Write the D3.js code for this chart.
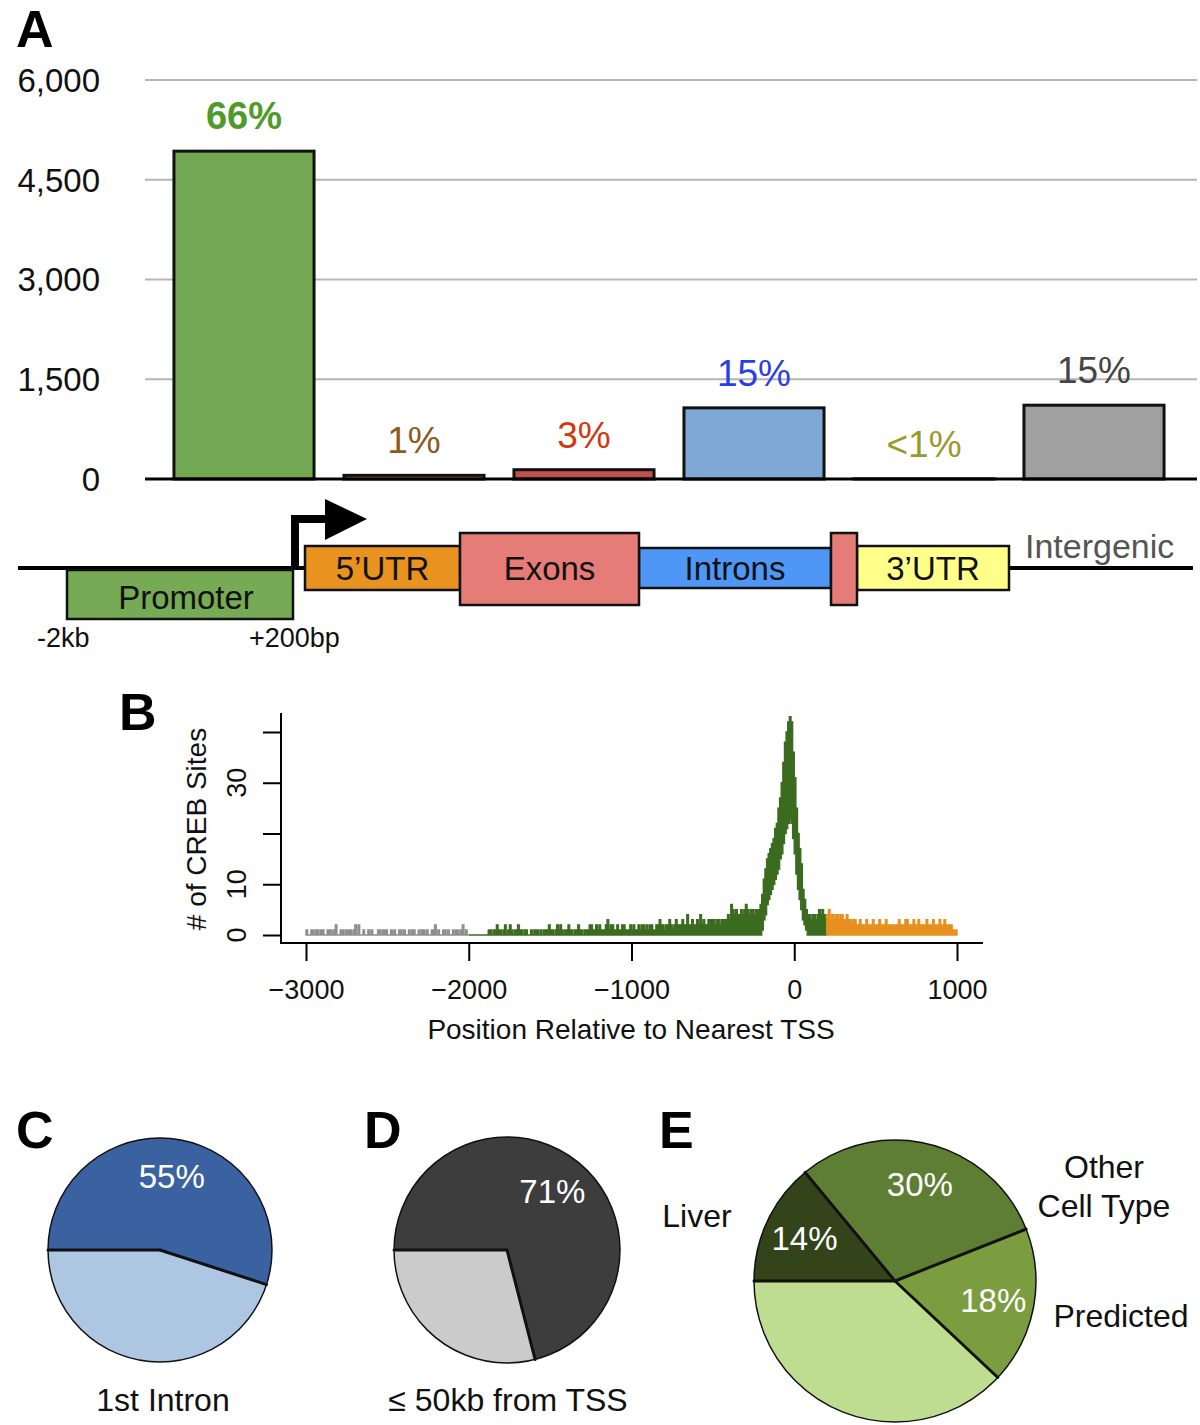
<!DOCTYPE html>
<html><head><meta charset="utf-8">
<script src="https://cdn.jsdelivr.net/npm/d3@7"></script>
<style>
body{margin:0;background:#fff}
svg{display:block}
text{font-family:"Liberation Sans",Arial,Helvetica,sans-serif}
</style>
</head><body>
<svg id="chart" width="1200" height="1425"></svg>
<script>
// ---------------- DATA ----------------
// Panel A
const barCategories = ["Promoter", "5'UTR", "Exons", "Introns", "3'UTR", "Intergenic"];
const barValues = [4930, 55, 140, 1070, 2, 1110];
const barLabels = ["66%", "1%", "3%", "15%", "<1%", "15%"];
const yTicksA = [0, 1500, 3000, 4500, 6000];

// Gene schematic (diagram units)
const geneParts = [
  {name: "Promoter", start: 49, end: 275, kind: "promoter"},
  {name: "5\u2019UTR", start: 287, end: 442, kind: "utr5"},
  {name: "Introns", start: 621, end: 813, kind: "intron"},
  {name: "3\u2019UTR", start: 839, end: 991, kind: "utr3"},
  {name: "Exons", start: 442, end: 621, kind: "exon"},
  {name: "", start: 813, end: 839, kind: "exon"}
];

// Panel B (10 bp bins)
const binWidth = 10;
const grayStart = -3000;
const grayCounts = [
  1,0,0,1,1,0,1,1,0,1, 1,0,0,1,1,1,0,1,2,0, 0,1,1,0,1,1,1,1,0,1,
  2,0,2,0,0,1,0,0,1,0, 1,0,0,0,1,1,0,1,1,1, 0,0,1,0,1,0,0,1,1,0,
  1,0,0,1,0,1,1,0,0,1, 0,1,1,0,1,0,0,1,1,2, 0,1,0,0,1,1,0,1,0,0,
  1,0,1,1,0,1,2,0,1,0];
const greenStart = -2000;
const greenCounts = [
  // -2000 .. -1010
  0,0,0,0,0,0,0,0,0,0, 0,0,1,1,0,1,1,2,1,1, 0,1,2,0,1,2,1,0,1,1,
  2,1,1,0,1,1,0,0,1,0, 1,1,1,0,1,0,1,1,1,2, 1,1,0,1,2,1,2,1,0,1,
  1,2,1,1,0,1,1,2,1,1, 0,1,1,1,2,2,1,1,2,1, 2,1,1,1,2,3,1,2,2,1,
  1,2,1,1,2,2,1,1,1,2,
  // -1000 .. -510
  1,2,1,1,2,1,2,2,1,2, 1,2,2,1,1,2,2,3,2,2, 1,2,2,3,2,1,2,3,2,2,
  2,3,2,2,4,2,2,3,2,2, 3,2,4,2,3,2,2,3,3,3,
  // -500 .. 190
  3,2,3,3,2,3,3,3,3,4, 3,6,5,4,5,4,4,5,4,5, 6,5,4,5,5,4,5,5,5,6,
  8,11,13,15,16,17,18,19,21,22, 25,27,30,34,38,40,42,43,42,36,
  31,25,20,17,14,9,7,5,4,4, 3,4,4,3,4,5,4,5,4,3];
const peakLowStart = -200;
const peakLow = [1,3,4,6,7,8,9,10,11,12, 13,15,16,18,20,21,22,23,22,19, 16,12,9,7,5,3,2,1];
const orangeStart = 200;
const orangeCounts = [
  4,5,3,4,3,4,4,3,4,4, 3,3,4,3,3,2,3,3,2,2, 3,2,2,2,3,2,2,2,3,2,
  2,2,3,2,2,2,3,2,2,2, 2,2,2,2,3,2,2,2,3,3, 2,2,2,3,2,2,3,2,2,2,
  2,3,2,2,2,3,2,2,2,3, 2,2,3,2,2,2,2,1,1,1];
const xTicksB = [-3000, -2000, -1000, 0, 1000];
const yTicksB = [0, 10, 20, 30, 40];
const yTickLabelsB = ["0", "10", "", "30", ""];

// Panels C, D, E
const pieC = [55, 45];
const pieCLabels = ["55%", ""];
const pieD = [71, 29];
const pieDLabels = ["71%", ""];
const pieE = [14, 30, 18, 38];
const pieELabels = ["14%", "30%", "18%", ""];

// ---------------- STYLES ----------------
const barFill = ["#72a853", "#e8921f", "#c0504d", "#7ea7d5", "#ffff8a", "#a0a0a0"];
const barLabelColor = ["#4f9a2b", "#8c5a1c", "#d2380f", "#2a3ee6", "#9a9a2c", "#454545"];
const geneFill = {promoter: "#77aa55", utr5: "#e8921f", exon: "#e67c78", intron: "#4f97f6", utr3: "#ffff8a"};
const pieCColors = ["#3b62a0", "#adc6e1"];
const pieDColors = ["#3d3d3d", "#cbcbcb"];
const pieEColors = ["#33431a", "#5e7e34", "#7b9d3f", "#bedd91"];

const svg = d3.select("#chart");

function letter(txt, x, y) {
  svg.append("text").attr("x", x).attr("y", y).attr("font-size", 52)
    .attr("font-weight", "bold").attr("fill", "#000").text(txt);
}

// ---------------- PANEL A ----------------
letter("A", 16, 47);
const yA = d3.scaleLinear().domain([0, 6000]).range([479, 80]);
const xA = d3.scaleBand().domain(barCategories).range([159, 1179])
  .paddingInner(0.176).paddingOuter(0.088);
const gA = svg.append("g");
gA.selectAll(".grid").data(yTicksA.filter(d => d > 0)).join("line")
  .attr("x1", 145).attr("x2", 1197)
  .attr("y1", d => yA(d)).attr("y2", d => yA(d))
  .attr("stroke", "#b5b5b5").attr("stroke-width", 2);
gA.selectAll(".tl").data(yTicksA).join("text")
  .attr("x", 100).attr("y", d => yA(d)).attr("dy", "0.36em")
  .attr("text-anchor", "end").attr("font-size", 33).attr("fill", "#111")
  .text(d => d3.format(",")(d));
gA.selectAll(".bar").data(barCategories).join("rect")
  .attr("x", d => xA(d)).attr("width", xA.bandwidth())
  .attr("y", (d, i) => yA(barValues[i]))
  .attr("height", (d, i) => yA(0) - yA(barValues[i]))
  .attr("fill", (d, i) => barFill[i]).attr("stroke", "#111").attr("stroke-width", 3);
gA.append("line").attr("x1", 145).attr("x2", 1197).attr("y1", yA(0)).attr("y2", yA(0))
  .attr("stroke", "#000").attr("stroke-width", 3);
gA.selectAll(".pl").data(barCategories).join("text")
  .attr("x", d => xA(d) + xA.bandwidth() / 2)
  .attr("y", (d, i) => yA(barValues[i]) - 22)
  .attr("text-anchor", "middle")
  .attr("font-size", (d, i) => i === 0 ? 38 : 37)
  .attr("font-weight", (d, i) => i === 0 ? "bold" : "normal")
  .attr("fill", (d, i) => barLabelColor[i])
  .text((d, i) => barLabels[i]);

// Gene schematic
const gx = d3.scaleLinear().domain([0, 1175]).range([18, 1193]);
const geneY = {promoter: [570, 619], utr5: [546, 590], utr3: [546, 590], exon: [533, 605], intron: [548, 588]};
const gG = svg.append("g");
gG.append("line").attr("x1", gx(0)).attr("x2", gx(1175)).attr("y1", 568).attr("y2", 568)
  .attr("stroke", "#000").attr("stroke-width", 4);
gG.selectAll(".gp").data(geneParts).join("rect")
  .attr("x", d => gx(d.start)).attr("width", d => gx(d.end) - gx(d.start))
  .attr("y", d => geneY[d.kind][0]).attr("height", d => geneY[d.kind][1] - geneY[d.kind][0])
  .attr("fill", d => geneFill[d.kind]).attr("stroke", "#111").attr("stroke-width", 2.5);
gG.selectAll(".gl").data(geneParts.filter(d => d.name)).join("text")
  .attr("x", d => (gx(d.start) + gx(d.end)) / 2 + (d.kind === "promoter" ? 6 : 0))
  .attr("y", d => d.kind === "promoter" ? 597 : 568).attr("dy", "0.36em")
  .attr("text-anchor", "middle").attr("font-size", 33).attr("fill", "#111")
  .text(d => d.name);
// TSS arrow
const tssX = gx(geneParts[0].end) + 2;
gG.append("path").attr("d", `M${tssX},568 V519 H${tssX + 34}`)
  .attr("fill", "none").attr("stroke", "#000").attr("stroke-width", 8);
gG.append("path").attr("d", `M${tssX + 30},499 L${tssX + 72},519 L${tssX + 30},540 Z`).attr("fill", "#000");
gG.append("text").attr("x", 1025).attr("y", 558).attr("font-size", 34).attr("fill", "#555").text("Intergenic");
gG.append("text").attr("x", 37).attr("y", 647).attr("font-size", 27).attr("fill", "#111").text("-2kb");
gG.append("text").attr("x", 249).attr("y", 647).attr("font-size", 27).attr("fill", "#111").text("+200bp");

// ---------------- PANEL B ----------------
letter("B", 119, 730);
const xB = d3.scaleLinear().domain([-3000, 1000]).range([306, 957]);
const yB = d3.scaleLinear().domain([0, 40]).range([935, 732]);
const gB = svg.append("g");

function histSeg(counts, start, color, lows, lowStart) {
  const pts = counts.map((c, i) => {
    const x = start + i * binWidth;
    let lo = 0;
    if (lows) {
      const j = Math.round((x - lowStart) / binWidth);
      if (j >= 0 && j < lows.length) lo = lows[j];
    }
    return {x, hi: c, lo};
  });
  const last = pts[pts.length - 1];
  pts.push({x: last.x + binWidth, hi: last.hi, lo: last.lo});
  const area = d3.area().curve(d3.curveStepAfter)
    .x(d => xB(d.x)).y0(d => yB(d.lo)).y1(d => yB(d.hi));
  gB.append("path").attr("d", area(pts)).attr("fill", color)
    .attr("stroke", color).attr("stroke-width", 1.4).attr("stroke-linejoin", "miter");
}
histSeg(grayCounts, grayStart, "#8e8e8e");
histSeg(greenCounts, greenStart, "#3b6b1f", peakLow, peakLowStart);
histSeg(orangeCounts, orangeStart, "#e8901e");

gB.append("path").attr("d", "M281,713 V943 H983").attr("fill", "none")
  .attr("stroke", "#000").attr("stroke-width", 2);
const xAxisB = d3.axisBottom(xB).tickValues(xTicksB).tickSize(18).tickPadding(19)
  .tickFormat(d => d < 0 ? "\u2212" + Math.abs(d) : String(d));
const gxB = gB.append("g").attr("transform", "translate(0,943)").call(xAxisB);
gxB.select(".domain").remove();
gxB.selectAll("line").attr("stroke", "#000").attr("stroke-width", 2);
gxB.selectAll("text").attr("font-size", 27).attr("fill", "#111")
  .attr("font-family", '"Liberation Sans",Arial,sans-serif');
const yAxisB = d3.axisLeft(yB).tickValues(yTicksB).tickSize(18).tickFormat("");
const gyB = gB.append("g").attr("transform", "translate(281,0)").call(yAxisB);
gyB.select(".domain").remove();
gyB.selectAll("line").attr("stroke", "#000").attr("stroke-width", 2);
gB.selectAll(".ytl").data(yTicksB).join("text")
  .attr("transform", d => `translate(246,${yB(d)}) rotate(-90)`)
  .attr("text-anchor", "middle").attr("font-size", 27).attr("fill", "#111")
  .text((d, i) => yTickLabelsB[i]);
gB.append("text").attr("transform", "translate(206,829) rotate(-90)")
  .attr("text-anchor", "middle").attr("font-size", 28).attr("fill", "#111").text("# of CREB Sites");
gB.append("text").attr("x", 631).attr("y", 1039).attr("text-anchor", "middle")
  .attr("font-size", 28).attr("fill", "#111").text("Position Relative to Nearest TSS");

// ---------------- PIES ----------------
function drawPie(cx, cy, r, values, colors, labels, labelR) {
  const g = svg.append("g").attr("transform", `translate(${cx},${cy})`);
  const arcs = d3.pie().sort(null).startAngle(-Math.PI / 2).endAngle(1.5 * Math.PI)(values);
  const arc = d3.arc().innerRadius(0).outerRadius(r);
  g.selectAll("path").data(arcs).join("path").attr("d", arc)
    .attr("fill", (d, i) => colors[i]);
  g.append("circle").attr("r", r).attr("fill", "none").attr("stroke", "#111").attr("stroke-width", 1.5);
  g.selectAll(".rad").data(arcs).join("line")
    .attr("x1", 0).attr("y1", 0)
    .attr("x2", d => r * Math.sin(d.startAngle)).attr("y2", d => -r * Math.cos(d.startAngle))
    .attr("stroke", "#111").attr("stroke-width", 3).attr("stroke-linecap", "round");
  const lab = d3.arc().innerRadius(labelR).outerRadius(labelR);
  g.selectAll(".pl").data(arcs).join("text")
    .attr("x", d => lab.centroid(d)[0]).attr("y", d => lab.centroid(d)[1]).attr("dy", "0.36em")
    .attr("text-anchor", "middle").attr("font-size", 33).attr("fill", "#fff")
    .text((d, i) => labels[i]);
}
letter("C", 16, 1148);
drawPie(160, 1250, 112, pieC, pieCColors, pieCLabels, 75);
svg.append("text").attr("x", 163).attr("y", 1411).attr("text-anchor", "middle")
  .attr("font-size", 32).attr("fill", "#111").text("1st Intron");

letter("D", 364, 1148);
drawPie(507, 1250, 113, pieD, pieDColors, pieDLabels, 74);
svg.append("text").attr("x", 508).attr("y", 1411).attr("text-anchor", "middle")
  .attr("font-size", 32).attr("fill", "#111").text("\u2264 50kb from TSS");

letter("E", 659, 1148);
drawPie(895, 1281, 141, pieE, pieEColors, pieELabels, 100);
svg.append("text").attr("x", 697).attr("y", 1227).attr("text-anchor", "middle")
  .attr("font-size", 32).attr("fill", "#111").text("Liver");
svg.append("text").attr("x", 1104).attr("y", 1178).attr("text-anchor", "middle")
  .attr("font-size", 32).attr("fill", "#111").text("Other");
svg.append("text").attr("x", 1104).attr("y", 1217).attr("text-anchor", "middle")
  .attr("font-size", 32).attr("fill", "#111").text("Cell Type");
svg.append("text").attr("x", 1121).attr("y", 1327).attr("text-anchor", "middle")
  .attr("font-size", 32).attr("fill", "#111").text("Predicted");
</script>
</body></html>
